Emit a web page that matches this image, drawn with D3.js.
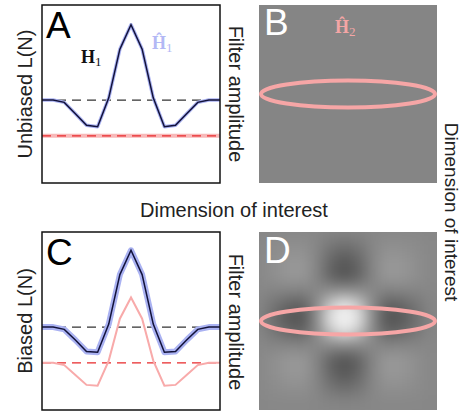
<!DOCTYPE html>
<html lang="en">
  <head>
    <meta charset="UTF-8" />
    <script src="https://d3js.org/d3.v7.min.js"></script>
    <title>Filter amplitude</title>
    <style>
      body { margin: 0; background: #fff; }
      text { font-family: 'Liberation Sans', Arial, sans-serif; }
      .lbl { font-size: 20px; fill: #222; }
      .big { font-size: 37px; }
      .sym { font-family: 'Liberation Serif', 'DejaVu Serif', serif; font-weight: bold; font-size: 18px; }
      .sub { font-family: 'Liberation Serif', 'DejaVu Serif', serif; font-weight: normal; font-size: 13px; }
    </style>
  </head>
  <body>
    <script>
      // sample index along the dimension of interest
      const samples = d3.range(17)
      // filter profiles, in units of the peak (0 = true level)
      const h1Unbiased = [0, 0, -0.03, -0.18, -0.33, -0.35, 0.03, 0.67, 0.99, 0.67, 0.03, -0.35, -0.33, -0.18, -0.03, 0, 0]
      const h1Biased   = [0, 0, -0.03, -0.17, -0.32, -0.33, 0.04, 0.69, 1.01, 0.69, 0.04, -0.33, -0.32, -0.17, -0.03, 0, 0]
      const h1BiasedEst = [-0.47, -0.47, -0.50, -0.63, -0.76, -0.77, -0.44, 0.11, 0.39, 0.11, -0.44, -0.77, -0.76, -0.63, -0.50, -0.47, -0.47]
      const trueLevel = 0
      const biasLevel = -0.47
      const yDomain = [-1.09, 1.25]

      const width = 461
      const height = 413
      const size = 178

      const svg = d3.select('body')
        .append('svg')
        .attr('width', width)
        .attr('height', height)

      const defs = svg.append('defs')
      defs.append('filter')
        .attr('id', 'soft')
        .attr('x', '-20%').attr('y', '-20%').attr('width', '140%').attr('height', '140%')
        .attr('color-interpolation-filters', 'sRGB')
        .append('feGaussianBlur')
        .attr('stdDeviation', 7)

      function linePanel(x0, y0, opts) {
        const x = d3.scaleLinear().domain([0, samples.length - 1]).range([x0, x0 + size])
        const y = d3.scaleLinear().domain(yDomain).range([y0 + size, y0])
        const g = svg.append('g')
        const line = d3.line().x((d, i) => x(samples[i])).y(d => y(d))

        g.append('line')
          .attr('x1', x0).attr('x2', x0 + size)
          .attr('y1', y(trueLevel)).attr('y2', y(trueLevel))
          .attr('stroke', '#333').attr('stroke-width', 1.2)
          .attr('stroke-dasharray', '9,6')

        if (opts.pinkFlat) {
          g.append('line')
            .attr('x1', x0).attr('x2', x0 + size)
            .attr('y1', y(biasLevel)).attr('y2', y(biasLevel))
            .attr('stroke', '#f8b8b8').attr('stroke-width', 4)
        }
        g.append('line')
          .attr('x1', x0).attr('x2', x0 + size)
          .attr('y1', y(biasLevel)).attr('y2', y(biasLevel))
          .attr('stroke', '#e8282b').attr('stroke-width', 1.4)
          .attr('stroke-dasharray', '9,6')

        if (opts.pinkCurve) {
          g.append('path')
            .attr('d', line(opts.pinkCurve))
            .attr('fill', 'none')
            .attr('stroke', '#f8aaaa').attr('stroke-width', 2)
        }

        g.append('path')
          .attr('d', line(opts.curve))
          .attr('fill', 'none')
          .attr('stroke', '#aab2f2').attr('stroke-width', opts.halo)
          .attr('stroke-linejoin', 'round')
        g.append('path')
          .attr('d', line(opts.curve))
          .attr('fill', 'none')
          .attr('stroke', '#12123a').attr('stroke-width', 1.5)

        g.append('rect')
          .attr('x', x0).attr('y', y0)
          .attr('width', size).attr('height', size)
          .attr('fill', 'none').attr('stroke', '#111').attr('stroke-width', 1.5)
        return g
      }

      function imagePanel(x0, y0, withFilter) {
        const g = svg.append('g')
        const clipId = 'clip' + y0
        defs.append('clipPath').attr('id', clipId)
          .append('rect').attr('x', x0).attr('y', y0).attr('width', size).attr('height', size)
        const inner = g.append('g').attr('clip-path', 'url(#' + clipId + ')')
        inner.append('rect')
          .attr('x', x0).attr('y', y0).attr('width', size).attr('height', size)
          .attr('fill', withFilter ? '#878787' : '#858585')

        if (withFilter) {
          // 2-D filter = outer product of the 1-D profile
          const cx = x0 + 86, cy = y0 + 86, step = 14
          const bx = d3.scaleBand().domain(samples).range([cx - 8.5 * step, cx + 8.5 * step])
          const by = d3.scaleBand().domain(samples).range([cy - 8.5 * step, cy + 8.5 * step])
          const color = d3.scaleLinear().domain([-0.35, 0, 0.8])
            .range(['#525252', '#878787', '#f8f8f8']).clamp(true)
          const cells = []
          samples.forEach(r => samples.forEach(c => cells.push({ r, c, v: h1Unbiased[r] * h1Unbiased[c] })))
          inner.append('g').attr('filter', 'url(#soft)')
            .selectAll('rect')
            .data(cells)
            .join('rect')
            .attr('x', d => bx(d.c) - 0.5).attr('y', d => by(d.r) - 0.5)
            .attr('width', bx.bandwidth() + 1).attr('height', by.bandwidth() + 1)
            .attr('fill', d => color(d.v))
        }

        g.append('ellipse')
          .attr('cx', x0 + size / 2).attr('cy', y0 + size / 2)
          .attr('rx', 87).attr('ry', 13.5)
          .attr('fill', 'none').attr('stroke', '#f6a6a6').attr('stroke-width', 4)
        return g
      }

      linePanel(42, 5, { curve: h1Unbiased, halo: 3.5, pinkFlat: true })
      linePanel(42, 232, { curve: h1Biased, halo: 6, pinkCurve: h1BiasedEst })
      imagePanel(259, 5, false)
      imagePanel(259, 232, true)

      // panel letters
      svg.append('text').attr('class', 'big').attr('x', 46).attr('y', 38).text('A')
      svg.append('text').attr('class', 'big').attr('x', 264).attr('y', 35).attr('fill', '#fff').text('B')
      svg.append('text').attr('class', 'big').attr('x', 46).attr('y', 265).text('C')
      svg.append('text').attr('class', 'big').attr('x', 264).attr('y', 263).attr('fill', '#fff').text('D')

      // symbols
      function sym(x, y, main, sub, color) {
        const t = svg.append('text').attr('class', 'sym').attr('x', x).attr('y', y).attr('fill', color)
        t.append('tspan').text(main)
        t.append('tspan').attr('class', 'sub').attr('dy', 3).text(sub)
      }
      sym(81, 63, 'H', '1', '#111')
      sym(152, 49, 'Ĥ', '1', '#b3b8f5')
      sym(335, 33, 'Ĥ', '2', '#f4a5a5')

      // axis labels
      svg.append('text').attr('class', 'lbl').attr('text-anchor', 'middle')
        .attr('transform', 'translate(32,94) rotate(-90)').text('Unbiased L(N)')
      svg.append('text').attr('class', 'lbl').attr('text-anchor', 'middle')
        .attr('transform', 'translate(32,321) rotate(-90)').text('Biased L(N)')
      svg.append('text').attr('class', 'lbl').attr('text-anchor', 'middle')
        .attr('transform', 'translate(229,94) rotate(90)').text('Filter amplitude')
      svg.append('text').attr('class', 'lbl').attr('text-anchor', 'middle')
        .attr('transform', 'translate(229,322) rotate(90)').text('Filter amplitude')
      svg.append('text').attr('class', 'lbl').attr('text-anchor', 'middle')
        .attr('x', 234).attr('y', 217).text('Dimension of interest')
      svg.append('text').attr('class', 'lbl').attr('text-anchor', 'middle')
        .style('font-size', '19px')
        .attr('transform', 'translate(445,212) rotate(90)').text('Dimension of interest')
    </script>
  </body>
</html>
